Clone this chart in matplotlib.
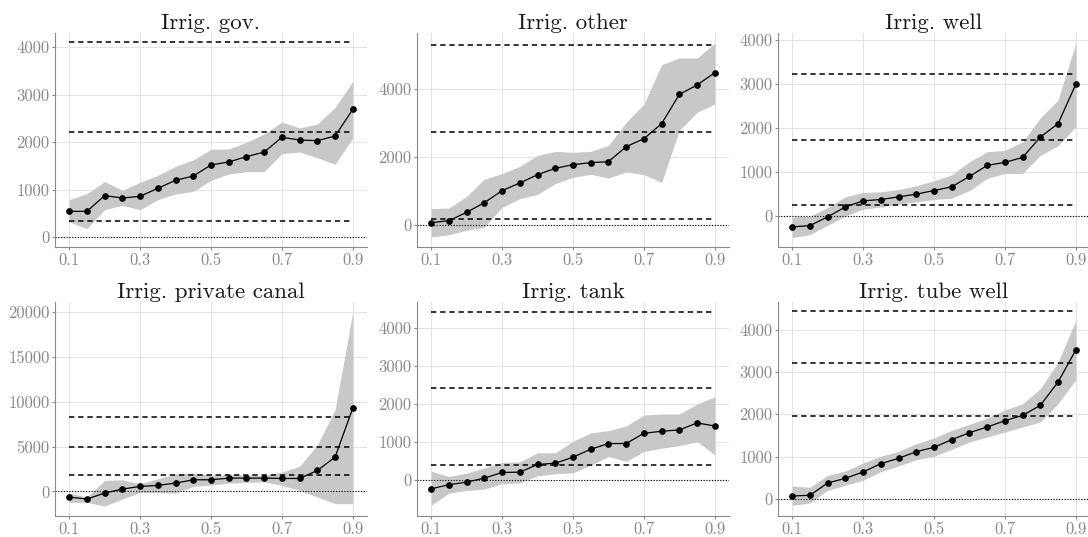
import numpy as np
import matplotlib
matplotlib.use("Agg")
import matplotlib.pyplot as plt

plt.rcParams['font.family'] = ['cmr10', 'DejaVu Serif']
plt.rcParams['axes.unicode_minus'] = False

# quantiles on x axis
tau = [0.1, 0.15, 0.2, 0.25, 0.3, 0.35, 0.4, 0.45, 0.5,
       0.55, 0.6, 0.65, 0.7, 0.75, 0.8, 0.85, 0.9]

titles = ["Irrig. gov.", "Irrig. other", "Irrig. well",
          "Irrig. private canal", "Irrig. tank", "Irrig. tube well"]

# point estimates
est_gov = [547, 547, 877, 828, 863, 1032, 1200, 1291, 1523, 1586, 1698, 1796, 2105, 2049, 2035, 2133, 2695]
est_other = [78, 137, 382, 665, 1018, 1243, 1487, 1673, 1781, 1840, 1869, 2309, 2544, 2984, 3845, 4119, 4481]
est_well = [-242, -212, -15, 212, 348, 379, 439, 500, 583, 667, 902, 1152, 1220, 1333, 1795, 2098, 2992]
est_canal = [-630, -852, -185, 259, 556, 667, 926, 1296, 1296, 1481, 1481, 1481, 1444, 1444, 2333, 3815, 9296]
est_tank = [-227, -122, -52, 52, 200, 209, 410, 444, 601, 810, 959, 959, 1229, 1281, 1316, 1499, 1420]
est_tube = [71, 87, 378, 488, 638, 835, 961, 1118, 1220, 1402, 1567, 1701, 1850, 1976, 2213, 2764, 3520]

# upper confidence bounds
hi_gov = [793, 919, 1172, 989, 1158, 1305, 1495, 1628, 1853, 1860, 2000, 2175, 2428, 2302, 2386, 2737, 3284]
hi_other = [489, 509, 851, 1360, 1517, 1732, 2055, 2172, 2143, 2172, 2348, 3023, 3562, 4716, 4912, 4912, 5352]
hi_well = [-15, 0, 197, 439, 538, 553, 606, 689, 803, 939, 1235, 1462, 1492, 1689, 2227, 2636, 3924]
hi_canal = [-185, -630, 1222, 1296, 852, 1407, 1963, 2037, 1852, 1852, 1852, 1778, 2148, 2815, 5185, 9111, 20000]
hi_tank = [235, 96, 183, 322, 462, 479, 715, 715, 1020, 1237, 1298, 1420, 1708, 1734, 1734, 1996, 2187]
hi_tube = [307, 276, 559, 661, 850, 1008, 1126, 1307, 1441, 1622, 1764, 1913, 2102, 2252, 2606, 3236, 4220]

# lower confidence bounds
lo_gov = [323, 182, 582, 674, 582, 793, 912, 968, 1200, 1333, 1382, 1382, 1761, 1796, 1677, 1537, 2091]
lo_other = [-342, -274, -147, -49, 528, 783, 910, 1223, 1409, 1497, 1389, 1566, 1487, 1262, 2789, 3317, 3562]
lo_well = [-485, -417, -205, 8, 159, 212, 273, 326, 379, 409, 583, 856, 970, 970, 1379, 1598, 2030]
lo_canal = [-1222, -1222, -1630, -852, -111, -148, -185, 556, 704, 926, 1000, 1074, 667, 111, -630, -1370, -1370]
lo_tank = [-662, -340, -270, -235, -96, -70, 113, 166, 192, 392, 619, 488, 749, 837, 906, 1011, 662]
lo_tube = [-150, -94, 205, 323, 441, 646, 780, 929, 1008, 1173, 1346, 1465, 1583, 1701, 1819, 2252, 2819]

# reference (dashed) levels
ref_gov = [344, 2225, 4105]
ref_other = [196, 2740, 5303]
ref_well = [250, 1735, 3220]
ref_canal = [1778, 5000, 8296]
ref_tank = [401, 2414, 4410]
ref_tube = [1969, 3205, 4433]

yticks = [[0, 1000, 2000, 3000, 4000],
          [0, 2000, 4000],
          [0, 1000, 2000, 3000, 4000],
          [0, 5000, 10000, 15000, 20000],
          [0, 1000, 2000, 3000, 4000],
          [0, 1000, 2000, 3000, 4000]]
ylims = [(-204, 4302), (-636, 5646), (-697, 4152),
         (-2741, 21111), (-941, 4671), (-402, 4654)]

ests = [est_gov, est_other, est_well, est_canal, est_tank, est_tube]
his = [hi_gov, hi_other, hi_well, hi_canal, hi_tank, hi_tube]
los = [lo_gov, lo_other, lo_well, lo_canal, lo_tank, lo_tube]
refs = [ref_gov, ref_other, ref_well, ref_canal, ref_tank, ref_tube]

fig = plt.figure(figsize=(10.88, 5.37), dpi=100)
W, H = 1088, 537
lefts = [55, 417, 778]
tops = [33, 302]
aw, ah = 312, 214

for k in range(6):
    r, c = divmod(k, 3)
    ax = fig.add_axes([lefts[c] / W, 1 - (tops[r] + ah) / H, aw / W, ah / H])
    ax.fill_between(tau, los[k], his[k], color='#c8c8c8', lw=0, zorder=1)
    for v in refs[k]:
        ax.plot([tau[0], tau[-1]], [v, v], color='black', lw=1.1,
                ls=(0, (3.5, 2.5)), zorder=2)
    ax.axhline(0, color='black', lw=0.8, ls=(0, (1, 1.5)), zorder=2)
    ax.plot(tau, ests[k], color='black', lw=0.9, marker='o', ms=3.8, zorder=3)
    ax.set_xlim(0.06, 0.94)
    ax.set_ylim(*ylims[k])
    ax.set_xticks([0.1, 0.3, 0.5, 0.7, 0.9])
    ax.set_xticklabels(['0.1', '0.3', '0.5', '0.7', '0.9'])
    ax.set_yticks(yticks[k])
    ax.set_yticklabels([str(t) for t in yticks[k]])
    ax.grid(True, color='#e3e3e3', lw=0.8, zorder=0)
    ax.set_axisbelow(True)
    for s in ['top', 'right']:
        ax.spines[s].set_visible(False)
    for s in ['left', 'bottom']:
        ax.spines[s].set_color('#8a8a8a')
        ax.spines[s].set_linewidth(0.8)
    ax.tick_params(colors='#8a8a8a', labelcolor='#8a8a8a', labelsize=12,
                   length=2.5, width=0.8, pad=1.5)
    ax.set_title(titles[k], fontsize=16.5, color='#1a1a1a', pad=3)

fig.savefig('out.png', dpi=100)
